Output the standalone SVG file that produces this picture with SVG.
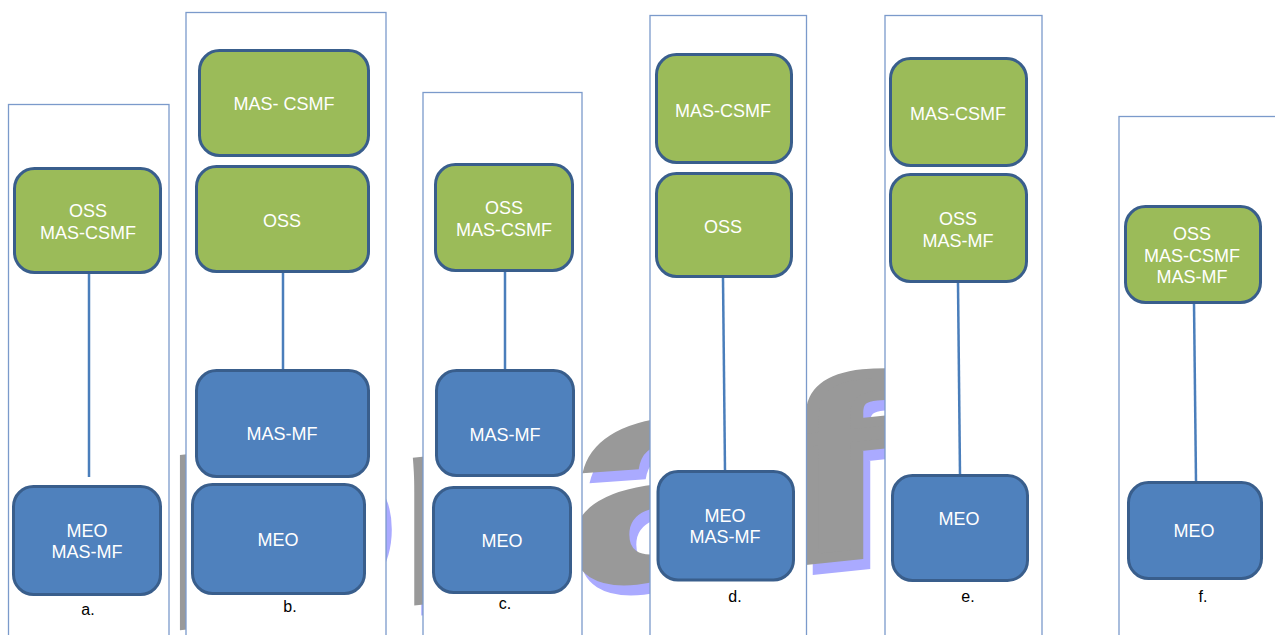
<svg xmlns="http://www.w3.org/2000/svg" width="1275" height="635" viewBox="0 0 1275 635">
<style>
.panel{fill:#ffffff;stroke:#7b9acb;stroke-width:1.3}
.g{fill:#9bbb59;stroke:#395e8c;stroke-width:3}
.b{fill:#4f81bd;stroke:#395e8c;stroke-width:3}
.t{font-family:"Liberation Sans",Arial,sans-serif;font-size:18px;fill:#ffffff;text-anchor:middle}
.lbl{font-family:"Liberation Sans",Arial,sans-serif;font-size:16px;fill:#000000;text-anchor:middle}
.wm{font-family:"Liberation Sans",Arial,sans-serif;font-weight:bold}
.conn line{stroke:#4a7ebb;stroke-width:2.5}
</style>
<defs>
<text id="wmtext" class="wm" stroke-width="0"><tspan x="-19.4" y="0" font-size="255">D</tspan><tspan x="157" y="0" font-size="280">r</tspan><tspan x="289" y="0" font-size="300">a</tspan><tspan x="457" y="-4" font-size="248" stroke-width="10">f</tspan><tspan x="543" y="0" font-size="258">t</tspan></text>
</defs>
<rect x="0" y="0" width="1275" height="635" fill="#ffffff"/>
<g id="watermark">
<g transform="translate(190,640) skewY(-6.05) scale(1.31,1)"><use href="#wmtext" fill="#aaaaff" stroke="#aaaaff"/></g>
<g transform="translate(183,630) skewY(-6.05) scale(1.31,1)"><use href="#wmtext" fill="#999999" stroke="#999999"/></g>
</g>
<g id="panels">
<rect class="panel" x="8.5" y="104.5" width="160.5" height="540"/>
<rect class="panel" x="186" y="12.5" width="200" height="640"/>
<rect class="panel" x="423" y="92.5" width="159" height="560"/>
<rect class="panel" x="650" y="15.5" width="156.5" height="640"/>
<rect class="panel" x="885" y="15.5" width="157" height="640"/>
<rect class="panel" x="1119" y="116.5" width="170" height="540"/>
</g>
<g class="conn" id="connectors">
<line x1="89" y1="274" x2="89" y2="477"/>
<line x1="283" y1="272" x2="283" y2="370"/>
<line x1="505" y1="271" x2="505" y2="370"/>
<line x1="723" y1="278" x2="725" y2="471"/>
<line x1="958" y1="283" x2="960" y2="475"/>
<line x1="1194" y1="303" x2="1196" y2="482"/>
</g>
<g id="a-oss-csmf"><rect class="g" x="14.5" y="168.5" width="146" height="104" rx="20"/><text class="t" x="88" y="217">OSS</text><text class="t" x="88" y="239">MAS-CSMF</text></g>
<g id="a-meo-mf"><rect class="b" x="13.5" y="486.5" width="147" height="108" rx="20"/><text class="t" x="87" y="537">MEO</text><text class="t" x="87" y="558">MAS-MF</text></g>
<text class="lbl" x="88" y="615">a.</text>
<g id="b-csmf"><rect class="g" x="199.5" y="50.5" width="169" height="105" rx="20"/><text class="t" x="284" y="110">MAS- CSMF</text></g>
<g id="b-oss"><rect class="g" x="196.5" y="166.5" width="172" height="105" rx="20"/><text class="t" x="282" y="227">OSS</text></g>
<g id="b-mf"><rect class="b" x="196.5" y="370.5" width="172" height="106" rx="20"/><text class="t" x="282" y="440">MAS-MF</text></g>
<g id="b-meo"><rect class="b" x="192.5" y="484.5" width="172" height="109" rx="20"/><text class="t" x="278" y="546">MEO</text></g>
<text class="lbl" x="290" y="612">b.</text>
<g id="c-oss-csmf"><rect class="g" x="435.5" y="164.5" width="137" height="106" rx="20"/><text class="t" x="504" y="214">OSS</text><text class="t" x="504" y="236">MAS-CSMF</text></g>
<g id="c-mf"><rect class="b" x="436.5" y="370.5" width="137" height="105" rx="20"/><text class="t" x="505" y="441">MAS-MF</text></g>
<g id="c-meo"><rect class="b" x="433.5" y="487.5" width="137" height="105" rx="20"/><text class="t" x="502" y="547">MEO</text></g>
<text class="lbl" x="505" y="609">c.</text>
<g id="d-csmf"><rect class="g" x="656.5" y="54.5" width="135" height="108" rx="20"/><text class="t" x="723" y="117">MAS-CSMF</text></g>
<g id="d-oss"><rect class="g" x="656.5" y="173.5" width="135" height="103" rx="20"/><text class="t" x="723" y="233">OSS</text></g>
<g id="d-meo-mf"><rect class="b" x="658" y="471.5" width="135.5" height="108.5" rx="20"/><text class="t" x="725" y="522">MEO</text><text class="t" x="725" y="543">MAS-MF</text></g>
<text class="lbl" x="735" y="602">d.</text>
<g id="e-csmf"><rect class="g" x="890.5" y="58.5" width="136" height="107" rx="20"/><text class="t" x="958" y="120">MAS-CSMF</text></g>
<g id="e-oss-mf"><rect class="g" x="890.5" y="174.5" width="136" height="107" rx="20"/><text class="t" x="958" y="225">OSS</text><text class="t" x="958" y="247">MAS-MF</text></g>
<g id="e-meo"><rect class="b" x="892.5" y="475.5" width="135" height="105" rx="20"/><text class="t" x="959" y="525">MEO</text></g>
<text class="lbl" x="968" y="602">e.</text>
<g id="f-oss-csmf-mf"><rect class="g" x="1125.5" y="206.5" width="135" height="96" rx="20"/><text class="t" x="1192" y="240">OSS</text><text class="t" x="1192" y="262">MAS-CSMF</text><text class="t" x="1192" y="283">MAS-MF</text></g>
<g id="f-meo"><rect class="b" x="1128.5" y="482.5" width="133" height="96" rx="20"/><text class="t" x="1194" y="537">MEO</text></g>
<text class="lbl" x="1203" y="602">f.</text>
</svg>
